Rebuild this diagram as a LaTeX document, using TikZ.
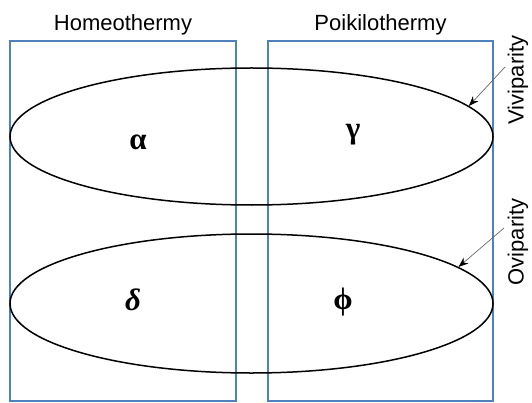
\documentclass[tikz,border=0pt]{standalone}
\usepackage{fontspec}
\setmainfont{Liberation Sans}
\newfontfamily\greekfont{Liberation Serif}
\usetikzlibrary{arrows.meta, positioning, shapes.geometric}
\definecolor{boxblue}{RGB}{79,129,189}

\begin{document}
\begin{tikzpicture}[x=10pt, y=10pt,
    group/.style={draw=boxblue, line width=1.1pt, inner sep=0pt},
    oval/.style={draw, ellipse, line width=1.5pt, inner sep=0pt, minimum width=483pt},
    head/.style={font=\fontsize{22}{25}\selectfont, inner sep=0pt},
    letter/.style={font=\greekfont\bfseries\fontsize{31}{33}\selectfont, inner sep=0pt},
    pointer/.style={draw=black!60, line width=0.7pt, -{Stealth[length=10pt, width=7.5pt, black]}}]
        \useasboundingbox (0,0) rectangle (53.2,40.2);

        % Groups
        \node[group, minimum width=226pt, minimum height=360pt] (homeo) at (12.3,18.1) {};
        \node[group, minimum width=225pt, minimum height=360pt] (poiki) at (38.05,18.1) {};
        \node[head, above=5pt of homeo] (homeolbl) {Homeothermy};
        \node[head, above=5pt of poiki] (poikilbl) {Poikilothermy};

        % Reproduction
        \node[oval, minimum height=137pt] (viv) at (25.15,26.55) {};
        \node[oval, minimum height=139pt] (ovi) at (25.15,9.85) {};

        % Letters
        \node[letter] (alpha) at (13.8,26.0) {α};
        \node[letter] (gamma) at (35.3,26.7) {γ};
        \node[letter, font=\greekfont\bfseries\itshape\fontsize{31}{33}\selectfont] (delta) at (13.3,10.2) {δ};
        \node[letter] (phi) at (34.3,10.0) {ϕ};

        % Side labels
        \node[head, rotate=90] (vivlbl) at (51.8,32.2) {Viviparity};
        \node[head, rotate=90] (ovilbl) at (51.8,16.0) {Oviparity};
        \coordinate (vivtail) at (50.5,33.5);
        \coordinate (ovitail) at (50.4,17.4);
        \draw[pointer] (vivtail) -- (viv.8);
        \draw[pointer] (ovitail) -- (ovi.10);
      \end{tikzpicture}
\end{document}
